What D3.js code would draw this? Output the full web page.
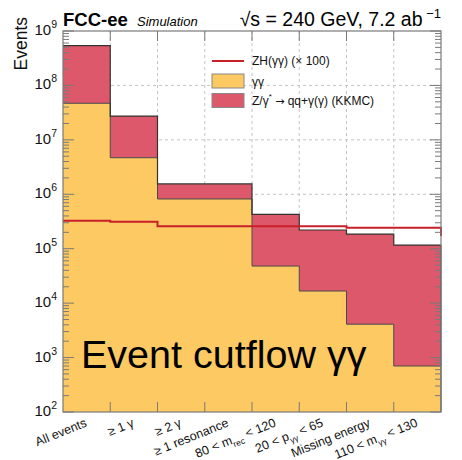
<!DOCTYPE html>
<html>
<head>
<meta charset="utf-8">
<script src="https://cdn.jsdelivr.net/npm/d3@7"></script>
<style>
  html, body { margin: 0; padding: 0; background: #fff; }
  svg text { font-family: "Liberation Sans", Arial, Helvetica, sans-serif; }
</style>
</head>
<body>
<svg id="chart" width="462" height="460"></svg>
<script>
// Cutflow selections (one bin each)
const cuts = ["All events", "≥ 1 γ", "≥ 2 γ", "≥ 1 resonance",
              "80 < m_rec < 120", "20 < p_γγ < 65", "Missing energy", "110 < m_γγ < 130"];
// Background yields after each selection
const diphoton = [4.7e7, 4.7e6, 8.2e5, 8.2e5, 4.8e4, 1.67e4, 4.1e3, 7.0e2];
const zqq      = [4.9e8, 2.27e7, 7.3e5, 7.3e5, 3.8e5, 2.04e5, 1.82e5, 1.16e5];
// Signal ZH(γγ) yields, drawn scaled up by zhScale
const zhYield  = [3270, 3140, 2580, 2580, 2580, 2580, 2430, 2430];
const zhOverflow = 1710;
const zhScale  = 100;
// Axis
const yDomain = [1e2, 1e9];
const yDecades = [2, 3, 4, 5, 6, 7, 8, 9];

const svg = d3.select("#chart");
const L = 63, R = 441, T = 31, B = 412;
const nb = cuts.length;

const x = d3.scaleLinear().domain([0, nb]).range([L, R]);
const y = d3.scaleLog().domain(yDomain).range([B, T]).clamp(true);

const colYY = "#fdc962", colZ = "#dc586a", colZH = "#c8202a";
const frameCol = "#7a7a7a";

// Dashed grid
const grid = svg.append("g").attr("stroke", "#c4c4c4").attr("stroke-dasharray", "3,3").attr("stroke-width", 1);
d3.range(1, nb).forEach(i => grid.append("line")
  .attr("x1", x(i)).attr("x2", x(i)).attr("y1", T).attr("y2", B));
yDecades.slice(1, -1).forEach(p => grid.append("line")
  .attr("x1", L).attr("x2", R).attr("y1", y(Math.pow(10, p))).attr("y2", y(Math.pow(10, p))));

// Stacked histogram: γγ below, Z/γ* on top
const stack = cuts.map((c, i) => ({ i, yy: diphoton[i], tot: diphoton[i] + zqq[i] }));
const pts = stack.concat([{ i: nb, yy: diphoton[nb - 1], tot: stack[nb - 1].tot }]);

const areaZ = d3.area().curve(d3.curveStepAfter)
  .x(d => x(d.i)).y0(d => y(d.yy)).y1(d => y(d.tot));
const areaYY = d3.area().curve(d3.curveStepAfter)
  .x(d => x(d.i)).y0(B).y1(d => y(d.yy));
svg.append("path").attr("d", areaYY(pts)).attr("fill", colYY);
svg.append("path").attr("d", areaZ(pts)).attr("fill", colZ);

const stepLine = key => d3.line().curve(d3.curveStepAfter).x(d => x(d.i)).y(d => y(d[key]));
svg.append("path").attr("d", stepLine("yy")(pts)).attr("fill", "none").attr("stroke", "#4a4a4a").attr("stroke-width", 1);
svg.append("path").attr("d", stepLine("tot")(pts)).attr("fill", "none").attr("stroke", "#333").attr("stroke-width", 1.2);

// Right-hand vertical closing the stack at the frame edge
svg.append("line").attr("x1", R).attr("x2", R).attr("y1", y(stack[nb-1].tot)).attr("y2", B).attr("stroke", "#444");

// Signal line
const zhPts = zhYield.map((v, i) => ({ i, v: v * zhScale }));
zhPts.push({ i: nb, v: zhOverflow * zhScale });
svg.append("path")
  .attr("d", d3.line().curve(d3.curveStepBefore).x(d => x(d.i)).y(d => y(d.v))(
    [{ i: 0, v: zhPts[0].v }].concat(zhPts.slice(0, nb).map(d => ({ i: d.i + 1, v: d.v })), [{ i: nb, v: zhPts[nb].v }])))
  .attr("fill", "none").attr("stroke", colZH).attr("stroke-width", 2);

// Frame
svg.append("rect").attr("x", L).attr("y", T).attr("width", R - L).attr("height", B - T)
  .attr("fill", "none").attr("stroke", frameCol).attr("stroke-width", 1.2);

// Y ticks (major + minor) on both sides
const ticks = svg.append("g").attr("stroke", frameCol).attr("stroke-width", 1);
yDecades.forEach(p => {
  const v = Math.pow(10, p);
  const yy = y(v);
  ticks.append("line").attr("x1", L).attr("x2", L + 11).attr("y1", yy).attr("y2", yy);
  ticks.append("line").attr("x1", R).attr("x2", R - 11).attr("y1", yy).attr("y2", yy);
  if (p < 9) {
    for (let m = 2; m <= 9; m++) {
      const ym = y(m * v);
      ticks.append("line").attr("x1", L).attr("x2", L + 6).attr("y1", ym).attr("y2", ym);
      ticks.append("line").attr("x1", R).attr("x2", R - 6).attr("y1", ym).attr("y2", ym);
    }
  }
});
// X ticks at bin edges, top and bottom
d3.range(1, nb).forEach(i => {
  ticks.append("line").attr("x1", x(i)).attr("x2", x(i)).attr("y1", B).attr("y2", B - 10);
  ticks.append("line").attr("x1", x(i)).attr("x2", x(i)).attr("y1", T).attr("y2", T + 10);
});

// Y tick labels 10^n
yDecades.forEach(p => {
  const t = svg.append("text").attr("x", 57).attr("y", y(Math.pow(10, p)) + 4)
    .attr("text-anchor", "end").attr("font-size", 15).attr("fill", "#111");
  t.append("tspan").text("10");
  t.append("tspan").attr("dy", -7).attr("font-size", 10.5).text(p);
});

// Y axis title
svg.append("text").attr("transform", "translate(27,17) rotate(-90)")
  .attr("text-anchor", "end").attr("font-size", 17.5).attr("fill", "#111").text("Events");

// Bin labels, rotated, with subscripts
const labelG = svg.append("g");
cuts.forEach((c, i) => {
  const cx = x(i + 0.5);
  const t = labelG.append("text")
    .attr("transform", `translate(${cx + 1},${B + 14}) rotate(-22)`)
    .attr("text-anchor", "end").attr("font-size", 12.5).attr("fill", "#111");
  const m = c.match(/^(.*?)([mp])_(\S+)(.*)$/);
  if (m) {
    t.append("tspan").text(m[1] + m[2]);
    t.append("tspan").attr("dy", 4).attr("font-size", 8.5).text(m[3]);
    t.append("tspan").attr("dy", -4).text(m[4]);
  } else {
    t.text(c);
  }
});

// Header
svg.append("text").attr("x", 63).attr("y", 26).attr("font-size", 18.5).attr("font-weight", "bold")
  .attr("fill", "#000").text("FCC-ee");
svg.append("text").attr("x", 137).attr("y", 26).attr("font-size", 13).attr("font-style", "italic")
  .attr("fill", "#000").text("Simulation");
const hdr = svg.append("text").attr("x", 441).attr("y", 26).attr("text-anchor", "end")
  .attr("font-size", 19.5).attr("fill", "#000");
hdr.append("tspan").text("√s = 240 GeV, 7.2 ab");
hdr.append("tspan").attr("dy", -8).attr("font-size", 13).text(" −1");

// Legend
const lg = svg.append("g").attr("font-size", 12).attr("fill", "#111");
lg.append("line").attr("x1", 212).attr("x2", 244).attr("y1", 61).attr("y2", 61)
  .attr("stroke", colZH).attr("stroke-width", 2);
lg.append("text").attr("x", 252).attr("y", 65).text("ZH(γγ) (× " + zhScale + ")");
lg.append("rect").attr("x", 212).attr("y", 74).attr("width", 32).attr("height", 14)
  .attr("fill", colYY).attr("stroke", "#888");
lg.append("text").attr("x", 252).attr("y", 86).text("γγ");
lg.append("rect").attr("x", 212).attr("y", 93.5).attr("width", 32).attr("height", 14)
  .attr("fill", colZ).attr("stroke", "#888");
const zt = lg.append("text").attr("x", 252).attr("y", 105);
zt.append("tspan").text("Z/γ");
zt.append("tspan").attr("dy", -6).attr("font-size", 8).text("*");
zt.append("tspan").attr("dy", 6).text(" ");
zt.append("tspan").style("font-family", "'DejaVu Sans', sans-serif").attr("font-size", 11).text("→");
zt.append("tspan").text(" qq+γ(γ) (KKMC)");

// Big overlay title
svg.append("text").attr("x", 81).attr("y", 368).attr("font-size", 39.5).attr("fill", "#000")
  .text("Event cutflow γγ");
</script>
</body>
</html>
